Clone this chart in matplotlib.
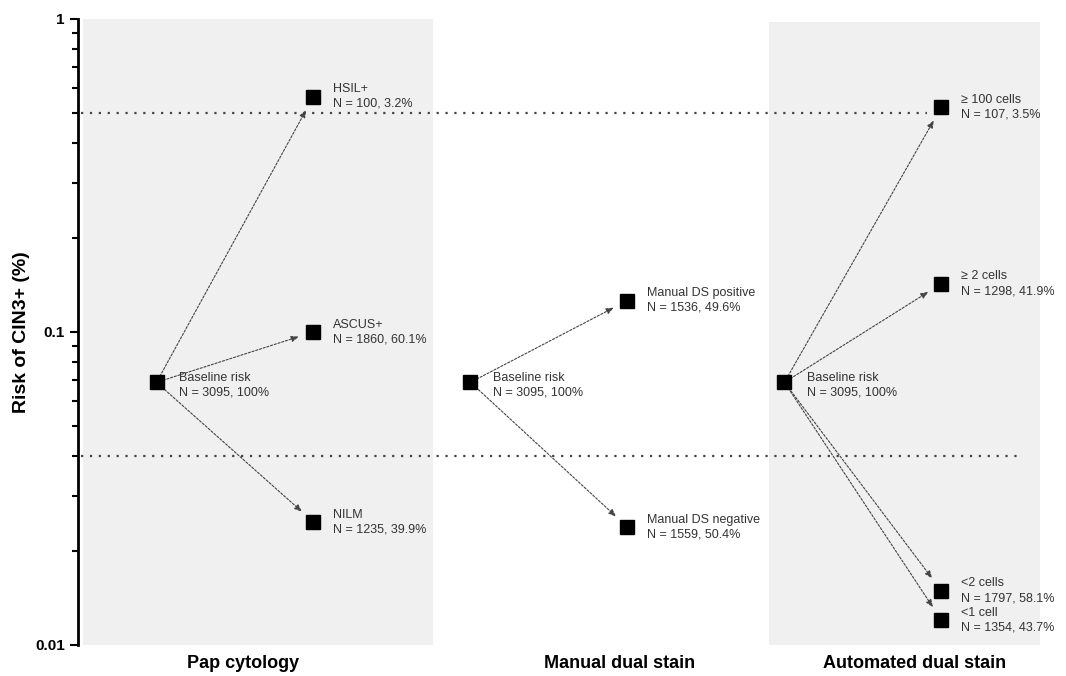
import matplotlib
matplotlib.use("Agg")
import matplotlib.pyplot as plt
from matplotlib.patches import Rectangle

plt.rcParams["font.family"] = ["Liberation Sans", "DejaVu Sans"]

# ---------------------------------------------------------------
# data (risk of CIN3+ in %)
# ---------------------------------------------------------------
groups = ["Pap cytology", "Manual dual stain", "Automated dual stain"]

baseline_risk = 0.069
baseline_n = 3095
baseline_pct = 100

pap_names = ["HSIL+", "ASCUS+", "NILM"]
pap_n = [100, 1860, 1235]
pap_pct = [3.2, 60.1, 39.9]
pap_risk = [0.565, 0.100, 0.0247]

manual_names = ["Manual DS positive", "Manual DS negative"]
manual_n = [1536, 1559]
manual_pct = [49.6, 50.4]
manual_risk = [0.126, 0.0238]

auto_names = ["\u2265 100 cells", "\u2265 2 cells", "<2 cells", "<1 cell"]
auto_n = [107, 1298, 1797, 1354]
auto_pct = [3.5, 41.9, 58.1, 43.7]
auto_risk = [0.523, 0.1426, 0.0149, 0.0120]

thresholds = [0.5, 0.04]

branches = [
    (pap_names, pap_n, pap_pct, pap_risk),
    (manual_names, manual_n, manual_pct, manual_risk),
    (auto_names, auto_n, auto_pct, auto_risk),
]

# ---------------------------------------------------------------
# figure
# ---------------------------------------------------------------
fig = plt.figure(figsize=(10.66, 6.76), dpi=100)
ax = fig.add_axes([0.0732, 0.046, 0.913, 0.926])
ax.set_yscale("log")
ax.set_ylim(0.01, 1)
ax.set_xlim(0, 6.2)

# shaded panels behind first and last group
ax.add_patch(Rectangle((0.03, 0.01), 2.23, 0.99, color="#f0f0f0", zorder=0, lw=0))
ax.add_patch(Rectangle((4.40, 0.01), 1.73, 0.97, color="#f0f0f0", zorder=0, lw=0))

# threshold lines
ax.plot([0.02, 5.41], [thresholds[0]] * 2, ls=(0, (1, 3)), color="#444444", lw=1.6, zorder=1)
ax.plot([0.02, 6.0], [thresholds[1]] * 2, ls=(0, (1, 3)), color="#444444", lw=1.6, zorder=1)

txt_kw = dict(fontsize=9, color="#333333", va="center", ha="left",
              textcoords="offset points", linespacing=1.3)

for i, (names, ns, pcts, risks) in enumerate(branches):
    x0 = 0.5 + 2 * i
    x1 = 1.5 + 2 * i
    ax.plot([x0], [baseline_risk], "s", color="black", ms=10, zorder=3)
    ax.annotate(f"Baseline risk\nN = {baseline_n}, {baseline_pct}%",
                (x0, baseline_risk), xytext=(16, -2), **txt_kw)
    for name, n, p, r in zip(names, ns, pcts, risks):
        ax.annotate("", xy=(x1, r), xytext=(x0, baseline_risk),
                    arrowprops=dict(arrowstyle="-|>,head_length=0.45,head_width=0.18",
                                    ls=(0, (2, 1.5)), lw=0.8, color="#444444",
                                    shrinkA=5, shrinkB=11), zorder=2)
        ax.plot([x1], [r], "s", color="black", ms=10, zorder=3)
        ax.annotate(f"{name}\nN = {n}, {p}%", (x1, r), xytext=(14, 0), **txt_kw)

# axes styling
for side in ["top", "right", "bottom"]:
    ax.spines[side].set_visible(False)
ax.spines["left"].set_linewidth(2)
ax.set_yticks([0.01, 0.1, 1])
ax.set_yticklabels(["0.01", "0.1", "1"], fontsize=11, fontweight="bold")
ax.tick_params(axis="y", which="major", length=6, width=1.5)
ax.tick_params(axis="y", which="minor", length=4, width=1.5)
ax.set_xticks([1.05, 3.45, 5.33])
ax.set_xticklabels(groups, fontsize=13, fontweight="bold")
ax.tick_params(axis="x", length=0, pad=7)
ax.set_ylabel("Risk of CIN3+ (%)", fontsize=14, fontweight="bold", labelpad=4)

fig.savefig("out.png", dpi=100)
